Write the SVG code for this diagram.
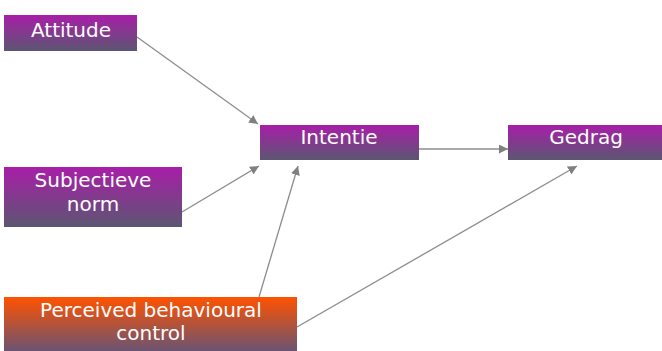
<svg xmlns="http://www.w3.org/2000/svg" width="662" height="351" viewBox="0 0 662 351">
<defs>
<linearGradient id="gp" x1="0" y1="0" x2="0" y2="1">
<stop offset="0" stop-color="#A81EA8"/>
<stop offset="1" stop-color="#5C5672"/>
</linearGradient>
<linearGradient id="go" x1="0" y1="0" x2="0" y2="1">
<stop offset="0" stop-color="#FF5200"/>
<stop offset="1" stop-color="#6A5372"/>
</linearGradient>
<marker id="ah" viewBox="0 0 10 10" refX="10" refY="5" markerWidth="9" markerHeight="9" markerUnits="userSpaceOnUse" orient="auto">
<path d="M0,0 L10,5 L0,10 z" fill="#808080"/>
</marker>
<style>
.p{fill:url(#gp)}
.o{fill:url(#go)}
.t{font-family:"DejaVu Sans",Verdana,sans-serif;font-size:20px;fill:#ffffff;text-anchor:middle}
.c{stroke:#8c8c8c;stroke-width:1.3;fill:none;marker-end:url(#ah)}
</style>
</defs>
<rect width="662" height="351" fill="#ffffff"/>
<g id="connectors">
<line class="c" x1="137" y1="37" x2="258" y2="124"/>
<line class="c" x1="182" y1="212" x2="259" y2="166"/>
<line class="c" x1="259" y1="297" x2="298" y2="166"/>
<line class="c" x1="419" y1="149" x2="508" y2="149"/>
<line class="c" x1="297" y1="327" x2="577" y2="166"/>
</g>
<g id="attitude">
<rect class="p" x="4" y="15" width="133" height="36"/>
<text class="t" x="71" y="37">Attitude</text>
</g>
<g id="subjectieve-norm">
<rect class="p" x="4" y="167" width="178" height="60"/>
<text class="t" x="93" y="187">Subjectieve</text>
<text class="t" x="93" y="211">norm</text>
</g>
<g id="perceived-behavioural-control">
<rect class="o" x="4" y="297" width="293" height="54"/>
<text class="t" x="151" y="317">Perceived behavioural</text>
<text class="t" x="151" y="340">control</text>
</g>
<g id="intentie">
<rect class="p" x="260" y="125" width="159" height="35"/>
<text class="t" x="339" y="144">Intentie</text>
</g>
<g id="gedrag">
<rect class="p" x="508" y="125" width="154" height="35"/>
<text class="t" x="586" y="144">Gedrag</text>
</g>
</svg>
